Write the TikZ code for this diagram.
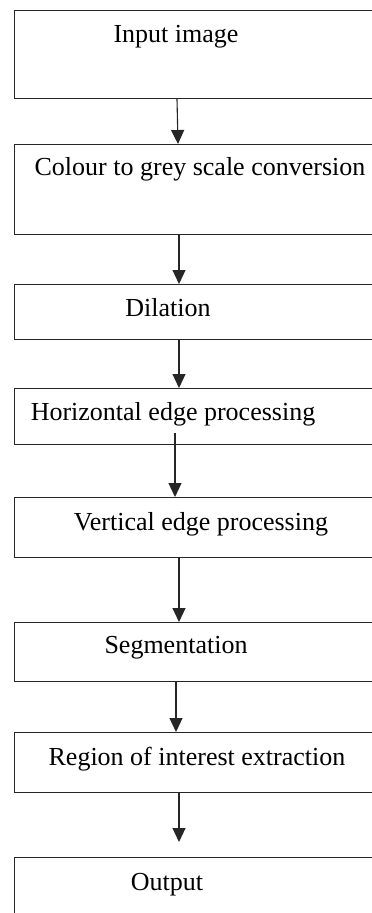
\documentclass[tikz,border=0pt]{standalone}
\usepackage{fontspec}
\setmainfont{Liberation Serif}
\usetikzlibrary{arrows.meta}
\begin{document}
\begin{tikzpicture}[x=1pt,y=-1pt,
  stagebox/.style={draw=black!85, line width=1.1pt, minimum width=372pt, inner sep=0pt, anchor=north west},
  lbl/.style={anchor=base, inner sep=0pt, font=\fontsize{26}{30}\selectfont},
  arr/.style={draw=black!85, line width=1.1pt, -{Triangle[length=14pt,width=13pt]}}]
\fill[white] (0,0) rectangle (372,913);
\clip (0,0) rectangle (372,913);
\node[stagebox, minimum height=88pt] (b1) at (14,10) {};
\node[stagebox, minimum height=90pt] (b2) at (14,144) {};
\node[stagebox, minimum height=55pt] (b3) at (14,284) {};
\node[stagebox, minimum height=56pt] (b4) at (14,388) {};
\node[stagebox, minimum height=60pt] (b5) at (14,497) {};
\node[stagebox, minimum height=59pt] (b6) at (14,622) {};
\node[stagebox, minimum height=60pt] (b7) at (14,732) {};
\node[stagebox, minimum height=80pt] (b8) at (14,857) {};
\node[lbl] (t1) at (176,42) {Input image};
\node[lbl] (t2) at (200,175) {Colour to grey scale conversion};
\node[lbl] (t3) at (168,316) {Dilation};
\node[lbl] (t4) at (173,420) {Horizontal edge processing};
\node[lbl] (t5) at (201,530) {Vertical edge processing};
\node[lbl] (t6) at (176,653) {Segmentation};
\node[lbl] (t7) at (197,765) {Region of interest extraction};
\node[lbl] (t8) at (167,890) {Output};
\draw[arr] (b1.south -| 177,0) -- (b2.north -| 178,0);
\draw[arr] (b2.south -| 179,0) -- (b3.north -| 179,0);
\draw[arr] (b3.south -| 179,0) -- (b4.north -| 179,0);
\draw[arr] ([yshift=12pt]b4.south -| 175,0) -- (b5.north -| 175,0);
\draw[arr] (b5.south -| 179,0) -- (b6.north -| 179,0);
\draw[arr] (b6.south -| 176,0) -- (b7.north -| 176,0);
\draw[arr] (b7.south -| 179,0) -- ([yshift=15pt]b8.north -| 179,0);
\end{tikzpicture}
\end{document}
